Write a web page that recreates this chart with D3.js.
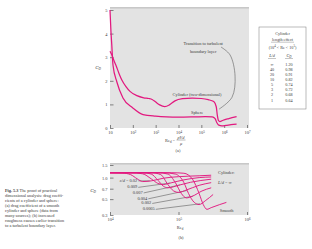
<!DOCTYPE html>
<html>
<head>
<meta charset="utf-8">
<script src="https://cdn.jsdelivr.net/npm/d3@7"></script>
<style>
html, body { margin: 0; padding: 0; background: #fff; }
svg { display: block; font-family: "Liberation Serif", "DejaVu Serif", serif; }
</style>
</head>
<body>
<svg id="chart" width="312" height="249"></svg>
<script>
// ---- (a) smooth cylinder and sphere, [Re_d, C_D]
const cylinderA = [
	[10, 3.25], [12, 3.1], [15, 2.85], [18, 2.67], [25, 2.3], [33, 2.03], [50, 1.75], [75, 1.55],
	[150, 1.37], [300, 1.28], [500, 1.25], [700, 1.21], [1000, 1.1], [1500, 0.98], [2500, 0.91],
	[4000, 0.98], [7000, 1.15], [1.5e4, 1.24], [4e4, 1.27], [1e5, 1.25], [2e5, 1.2], [3.5e5, 1.12],
	[4.5e5, 0.9], [5e5, 0.55], [5.6e5, 0.32], [6.5e5, 0.27], [9e5, 0.33], [1.6e6, 0.4], [3.5e6, 0.48]
];
const sphereA = [
	[10, 5.0], [11, 4.1], [12, 3.5], [13.5, 2.67], [20, 1.95], [37, 1.27], [100, 0.85], [280, 0.57],
	[1000, 0.5], [3000, 0.47], [1e4, 0.46], [5e4, 0.47], [1.5e5, 0.48], [3e5, 0.47], [4e5, 0.4],
	[4.8e5, 0.22], [5.8e5, 0.12], [8e5, 0.09], [1.2e6, 0.11], [2e6, 0.14], [3.5e6, 0.16]
];
const transitionLeader = [[7.3e5, 3.43], [1.8e6, 3.1], [3e6, 2.2], [2.2e6, 1.3], [6e5, 0.8]];
const xTicksA = [10, 1e2, 1e3, 1e4, 1e5, 1e6, 1e7];
const yTicksA = [0, 1, 2, 3, 4, 5];
const notesA = [
	{ text: 'Cylinder (two-dimensional)', re: 6.5e4, cd: 1.38 },
	{ text: 'Sphere', re: 6.5e4, cd: 0.63 },
	{ text: 'Transition to turbulent', re: 1.2e5, cd: 3.55 },
	{ text: 'boundary layer', re: 1.2e5, cd: 3.2 }
];

// cylinder length effect table
const lengthLd = ['∞', '40', '20', '10', '5', '3', '2', '1'];
const lengthCd = ['1.20', '0.98', '0.91', '0.82', '0.74', '0.72', '0.68', '0.64'];

// ---- (b) roughness effect, [Re_d, C_D]
const roughness = ['0.02', '0.009', '0.007', '0.004', '0.002', '0.0005', 'Smooth'];
const roughCurves = [
	[[1e4, 1.17], [1.5e4, 1.16], [2e4, 1.1], [2.5e4, 0.96], [3e4, 0.88], [4e4, 0.9], [6e4, 0.98], [1e5, 1.03], [2e5, 1.06], [3e5, 1.08]],
	[[1e4, 1.17], [2e4, 1.17], [3e4, 1.13], [4e4, 0.96], [5e4, 0.83], [6e4, 0.8], [8e4, 0.85], [1.2e5, 0.93], [2e5, 1.0], [3e5, 1.02]],
	[[1e4, 1.17], [3e4, 1.17], [4e4, 1.12], [5e4, 0.92], [6e4, 0.76], [7e4, 0.72], [1e5, 0.78], [1.5e5, 0.86], [3e5, 0.95]],
	[[1e4, 1.17], [4e4, 1.17], [5.5e4, 1.1], [7e4, 0.8], [8.5e4, 0.65], [1e5, 0.62], [1.3e5, 0.67], [2e5, 0.78], [3e5, 0.85]],
	[[1e4, 1.17], [5e4, 1.17], [7e4, 1.12], [9e4, 0.85], [1.1e5, 0.6], [1.3e5, 0.52], [1.6e5, 0.55], [2.2e5, 0.65], [3e5, 0.72]],
	[[1e4, 1.17], [6e4, 1.17], [9e4, 1.12], [1.2e5, 0.85], [1.4e5, 0.6], [1.7e5, 0.45], [2e5, 0.42], [2.5e5, 0.48], [3.2e5, 0.58]],
	[[1e4, 1.17], [8e4, 1.17], [1.2e5, 1.15], [1.6e5, 0.95], [2e5, 0.6], [2.3e5, 0.42], [2.6e5, 0.36], [3e5, 0.38], [4e5, 0.42], [5e5, 0.45]]
];
const roughLabelAt = [[2.5e4, 0.9], [2.5e4, 0.73], [3.0e4, 0.61], [3.5e4, 0.505], [4.0e4, 0.435], [4.5e4, 0.36], [4.0e5, 0.345]];
const roughLeaderTo = [[3.8e4, 0.9], [7.5e4, 0.84], [1.05e5, 0.79], [1.33e5, 0.66], [1.63e5, 0.55], [2.06e5, 0.43], null];
const xTicksB = [1e4, 1e5, 1e6];
const yTicksB = [0.3, 0.5, 0.7, 1.0, 1.5];

const caption = [
	'The proof of practical',
	'dimensional analysis: drag coeffi-',
	'cients of a cylinder and sphere:',
	'(a) drag coefficient of a smooth',
	'cylinder and sphere (data from',
	'many sources); (b) increased',
	'roughness causes earlier transition',
	'to a turbulent boundary layer.'
];

const pink = '#e2197f';
const ink = '#3a3a3a';
const fs = 4.4;
const svg = d3.select('#chart');

function styleAxis (g) {
	g.select('.domain').remove();
	g.attr('font-family', null).attr('font-size', fs);
	g.selectAll('.tick line').attr('stroke', ink).attr('stroke-width', 0.6);
	g.selectAll('.tick text').attr('fill', ink);
}
function powerLabels (g) {
	g.selectAll('.tick text').each(function (d) {
		const e = Math.round(Math.log10(d));
		const t = d3.select(this).text('10');
		if (e > 1) t.append('tspan').attr('dy', '-0.45em').attr('font-size', 3.2).text(e);
	});
}
function cdLabel (g, x, y) {
	const t = g.append('text').attr('x', x).attr('y', y).attr('font-size', 5).attr('fill', ink)
		.attr('text-anchor', 'middle').attr('font-style', 'italic');
	t.append('tspan').text('C');
	t.append('tspan').attr('font-size', 3.3).attr('dy', 1.2).text('D');
}

// ---------- (a)
const xA = d3.scaleLog().domain([10, 1e7]).range([110, 247]);
const yA = d3.scaleLinear().domain([0, 5]).range([128, 10]);
const gA = svg.append('g');

gA.append('rect').attr('x', 110).attr('y', 7).attr('width', 139).attr('height', 121).attr('fill', '#e3e3e3');
gA.append('rect').attr('x', 110).attr('y', 7).attr('width', 139).attr('height', 1.6).attr('fill', '#c8c8c8');

gA.append('g').attr('transform', 'translate(0,128)')
	.call(d3.axisBottom(xA).tickValues(xTicksA).tickSize(-3).tickPadding(3).tickFormat(() => ''))
	.call(styleAxis).call(powerLabels);
gA.append('g').attr('transform', 'translate(110,0)')
	.call(d3.axisLeft(yA).tickValues(yTicksA).tickSize(-3.5).tickPadding(2.5).tickFormat(d3.format('d')))
	.call(styleAxis);

const lineA = d3.line().x(d => xA(d[0])).y(d => yA(d[1])).curve(d3.curveMonotoneX);
gA.selectAll('path.curve').data([cylinderA, sphereA]).join('path')
	.attr('class', 'curve')
	.attr('d', lineA)
	.attr('fill', 'none').attr('stroke', pink).attr('stroke-width', 1.25);

gA.append('path')
	.attr('d', d3.line().x(d => xA(d[0])).y(d => yA(d[1])).curve(d3.curveCatmullRom)(transitionLeader))
	.attr('fill', 'none').attr('stroke', '#444').attr('stroke-width', 0.5);

gA.selectAll('text.note').data(notesA).join('text')
	.attr('class', 'note')
	.attr('x', d => xA(d.re)).attr('y', d => yA(d.cd))
	.attr('text-anchor', 'middle').attr('dominant-baseline', 'middle')
	.attr('font-size', fs).attr('fill', ink)
	.text(d => d.text);

cdLabel(gA, 98, 69);

const xlab = gA.append('g').attr('fill', ink).attr('font-size', fs);
const rt = xlab.append('text').attr('x', 165).attr('y', 141.5);
rt.append('tspan').text('Re');
rt.append('tspan').attr('font-size', 3.2).attr('dy', 1).text('d');
rt.append('tspan').attr('dy', -1).text(' =');
xlab.append('text').attr('x', 181).attr('y', 139).attr('text-anchor', 'middle').attr('font-style', 'italic').text('ρVd');
xlab.append('line').attr('x1', 176.5).attr('x2', 185.5).attr('y1', 140).attr('y2', 140).attr('stroke', ink).attr('stroke-width', 0.35);
xlab.append('text').attr('x', 181).attr('y', 144.5).attr('text-anchor', 'middle').attr('font-style', 'italic').text('μ');
xlab.append('text').attr('x', 178).attr('y', 152).attr('text-anchor', 'middle').text('(a)');

// ---------- table
const tb = svg.append('g').attr('font-size', 4.2).attr('fill', ink).attr('text-anchor', 'middle');
tb.append('rect').attr('x', 259).attr('y', 27).attr('width', 47).attr('height', 82)
	.attr('fill', 'none').attr('stroke', '#777').attr('stroke-width', 0.5);
tb.append('text').attr('x', 282.5).attr('y', 35).text('Cylinder');
tb.append('text').attr('x', 282.5).attr('y', 41).text('length effect');
tb.append('line').attr('x1', 271).attr('x2', 294).attr('y1', 42.2).attr('y2', 42.2).attr('stroke', ink).attr('stroke-width', 0.3);
const rng = tb.append('text').attr('x', 282.5).attr('y', 48.5);
rng.append('tspan').text('(10');
rng.append('tspan').attr('font-size', 3).attr('dy', -1.3).text('4');
rng.append('tspan').attr('dy', 1.3).text(' < Re < 10');
rng.append('tspan').attr('font-size', 3).attr('dy', -1.3).text('5');
rng.append('tspan').attr('dy', 1.3).text(')');
tb.append('text').attr('x', 272).attr('y', 57).attr('font-style', 'italic').text('L/d');
const hc = tb.append('text').attr('x', 289).attr('y', 57).attr('font-style', 'italic');
hc.append('tspan').text('C');
hc.append('tspan').attr('font-size', 3).attr('dy', 0.8).text('D');
tb.append('line').attr('x1', 268).attr('x2', 276).attr('y1', 58.5).attr('y2', 58.5).attr('stroke', ink).attr('stroke-width', 0.3);
tb.append('line').attr('x1', 285).attr('x2', 293).attr('y1', 58.5).attr('y2', 58.5).attr('stroke', ink).attr('stroke-width', 0.3);
const rowY = d3.scaleLinear().domain([0, lengthLd.length - 1]).range([66, 101.5]);
tb.selectAll('text.ld').data(lengthLd).join('text').attr('class', 'ld')
	.attr('x', 272).attr('y', (d, i) => rowY(i)).text(d => d);
tb.selectAll('text.cdv').data(lengthCd).join('text').attr('class', 'cdv')
	.attr('x', 289).attr('y', (d, i) => rowY(i)).text(d => d);

// ---------- (b)
const xB = d3.scaleLog().domain([1e4, 1e6]).range([110, 247]);
const yB = d3.scaleLog().domain([0.3, 1.5]).range([215, 165]);
const gB = svg.append('g');
gB.append('rect').attr('x', 110).attr('y', 163).attr('width', 139).attr('height', 52).attr('fill', '#e3e3e3');
gB.append('rect').attr('x', 110).attr('y', 163).attr('width', 139).attr('height', 1.6).attr('fill', '#c8c8c8');

gB.append('g').attr('transform', 'translate(0,215)')
	.call(d3.axisBottom(xB).tickValues(xTicksB).tickSize(-3).tickPadding(3).tickFormat(() => ''))
	.call(styleAxis).call(powerLabels);
gB.append('g').attr('transform', 'translate(110,0)')
	.call(d3.axisLeft(yB).tickValues(yTicksB).tickSize(-3.5).tickPadding(2.5).tickFormat(d3.format('.1f')))
	.call(styleAxis);

// leaders
gB.selectAll('line.leader').data(roughLeaderTo.map((t, i) => [roughLabelAt[i], t]).filter(d => d[1])).join('line')
	.attr('class', 'leader')
	.attr('x1', d => xB(d[0][0]) + 1).attr('y1', d => yB(d[0][1]))
	.attr('x2', d => xB(d[1][0])).attr('y2', d => yB(d[1][1]))
	.attr('stroke', '#444').attr('stroke-width', 0.5);

const lineB = d3.line().x(d => xB(d[0])).y(d => yB(d[1])).curve(d3.curveMonotoneX);
gB.selectAll('path.curve').data(roughCurves).join('path')
	.attr('class', 'curve')
	.attr('d', lineB)
	.attr('fill', 'none').attr('stroke', pink).attr('stroke-width', 0.95);

gB.selectAll('text.rough').data(roughness).join('text')
	.attr('class', 'rough')
	.attr('x', (d, i) => xB(roughLabelAt[i][0]))
	.attr('y', (d, i) => yB(roughLabelAt[i][1]))
	.attr('text-anchor', (d, i) => d === 'Smooth' ? 'start' : 'end')
	.attr('dominant-baseline', 'middle')
	.attr('font-size', fs).attr('fill', ink)
	.each(function (d, i) {
		const t = d3.select(this);
		if (i === 0) {
			t.append('tspan').attr('font-style', 'italic').text('ε/d');
			t.append('tspan').text(' = ' + d);
		} else t.text(d);
	});

const cyl = gB.append('g').attr('font-size', fs).attr('fill', ink);
cyl.append('text').attr('x', 218).attr('y', 174).text('Cylinder:');
const ld = cyl.append('text').attr('x', 218).attr('y', 183.5);
ld.append('tspan').attr('font-style', 'italic').text('L/d');
ld.append('tspan').text(' = ∞');

cdLabel(gB, 93, 192);
const rb = gB.append('text').attr('x', 180).attr('y', 228.5).attr('font-size', fs).attr('fill', ink).attr('text-anchor', 'middle');
rb.append('tspan').text('Re');
rb.append('tspan').attr('font-size', 3.2).attr('dy', 1).text('d');
gB.append('text').attr('x', 181).attr('y', 238.5).attr('font-size', fs).attr('fill', ink).attr('text-anchor', 'middle').text('(b)');

// ---------- caption
const cap = svg.append('g').attr('font-size', 4.3).attr('fill', ink);
cap.selectAll('text').data(caption).join('text')
	.attr('x', 5).attr('y', (d, i) => 191.5 + i * 5)
	.each(function (d, i) {
		const t = d3.select(this);
		if (i === 0) {
			t.append('tspan').attr('font-weight', 'bold').text('Fig. 5.3 ');
			t.append('tspan').text(d);
		} else t.text(d);
	});
</script>
</body>
</html>
